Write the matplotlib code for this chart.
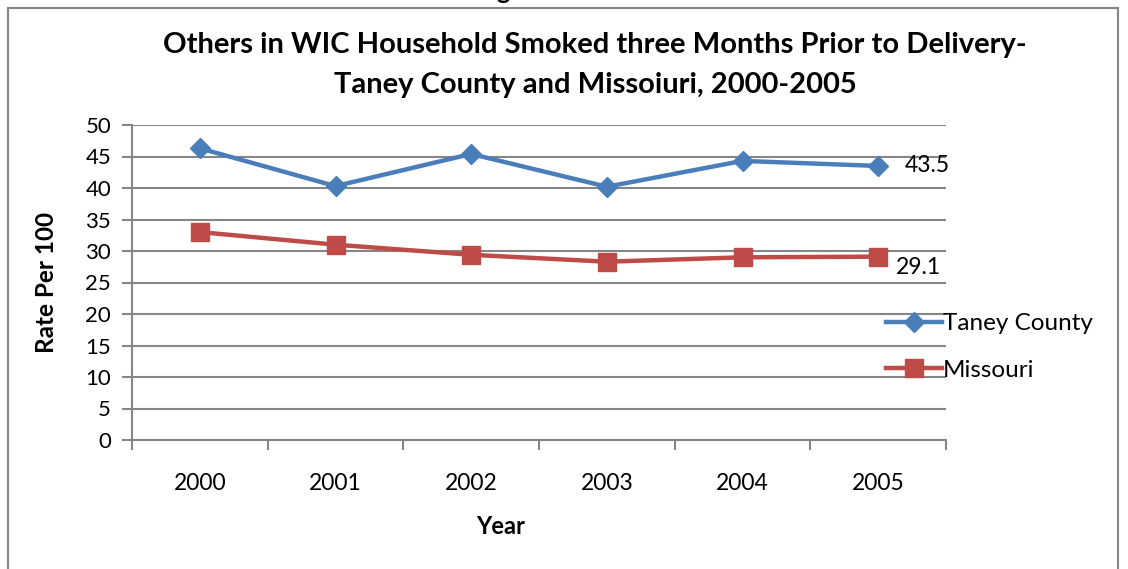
import matplotlib.pyplot as plt
from matplotlib.patches import Rectangle

years = ["2000", "2001", "2002", "2003", "2004", "2005"]
taney = [46.3, 40.3, 45.4, 40.2, 44.3, 43.5]
missouri = [33.0, 31.0, 29.4, 28.3, 29.0, 29.1]
y_ticks = list(range(0, 55, 5))

plt.rcParams["font.family"] = ["Lato", "DejaVu Sans"]

W, H = 1128, 569
fig = plt.figure(figsize=(W / 100, H / 100), dpi=100)

grey = "#868686"
blue = "#4A7EBB"
red = "#BE4B48"

# outer chart frame, runs off the bottom of the picture
fig.patches.append(Rectangle((8 / W, -0.05), (1118 - 8) / W, 1.05 - 8 / H,
                             transform=fig.transFigure, fill=False,
                             edgecolor=grey, linewidth=1.5))
# clipped text from the page above the chart
fig.text(503 / W, 1.0 + 1 / H, "g", ha="center", va="baseline",
         fontsize=18, fontweight="bold")

ax = fig.add_axes([132 / W, 1 - 440 / H, (946 - 132) / W, (440 - 125) / H])
x = list(range(len(years)))

ax.plot(x, taney, color=blue, linewidth=3.2, marker="D", markersize=10,
        label="Taney County", zorder=3)
ax.plot(x, missouri, color=red, linewidth=3.2, marker="s", markersize=13.5,
        label="Missouri", zorder=3)

ax.annotate(f"{taney[-1]}", (x[-1], taney[-1]), xytext=(19, 0),
            textcoords="offset points", va="center", ha="left", fontsize=16.5)
ax.annotate(f"{missouri[-1]}", (x[-1], missouri[-1]), xytext=(13, -8),
            textcoords="offset points", va="center", ha="left", fontsize=16.5)

ax.set_xlim(-0.5, len(years) - 0.5)
ax.set_ylim(0, 50)
ax.set_yticks(y_ticks)
ax.set_yticklabels([str(v) for v in y_ticks], fontsize=16)
ax.set_xticks(x)
ax.set_xticklabels(years, fontsize=16.5)
ax.set_xticks([i - 0.5 for i in range(len(years) + 1)], minor=True)
ax.tick_params(axis="x", which="major", length=0, pad=24)
ax.tick_params(axis="x", which="minor", length=7, color=grey, width=1.5)
ax.tick_params(axis="y", length=7, color=grey, width=1.5, pad=8)
ax.grid(axis="y", color=grey, linewidth=1.5)
ax.set_axisbelow(True)
for side in ["top", "right"]:
    ax.spines[side].set_visible(False)
for side in ["left", "bottom"]:
    ax.spines[side].set_color(grey)
    ax.spines[side].set_linewidth(1.5)

ax.set_ylabel("Rate Per 100", fontsize=17.5, fontweight="bold", labelpad=20)
ax.set_xlabel("Year", fontsize=17, fontweight="bold")
ax.xaxis.set_label_coords((501 - 132) / (946 - 132), -(527 - 440) / (440 - 125))
ax.xaxis.label.set_va("center")

fig.text(595 / W, 1 - 45 / H,
         "Others in WIC Household Smoked three Months Prior to Delivery-",
         ha="center", va="center", fontsize=21, fontweight="bold")
fig.text(595 / W, 1 - 85 / H, "Taney County and Missoiuri, 2000-2005",
         ha="center", va="center", fontsize=21, fontweight="bold")

fig.legend(loc="upper left", bbox_to_anchor=(886 / W, 1 - 313 / H),
           frameon=False, fontsize=17.5, handlelength=2.3, handletextpad=0.05,
           labelspacing=1.05, borderaxespad=0, borderpad=0)

fig.savefig("out.png", dpi=100)
